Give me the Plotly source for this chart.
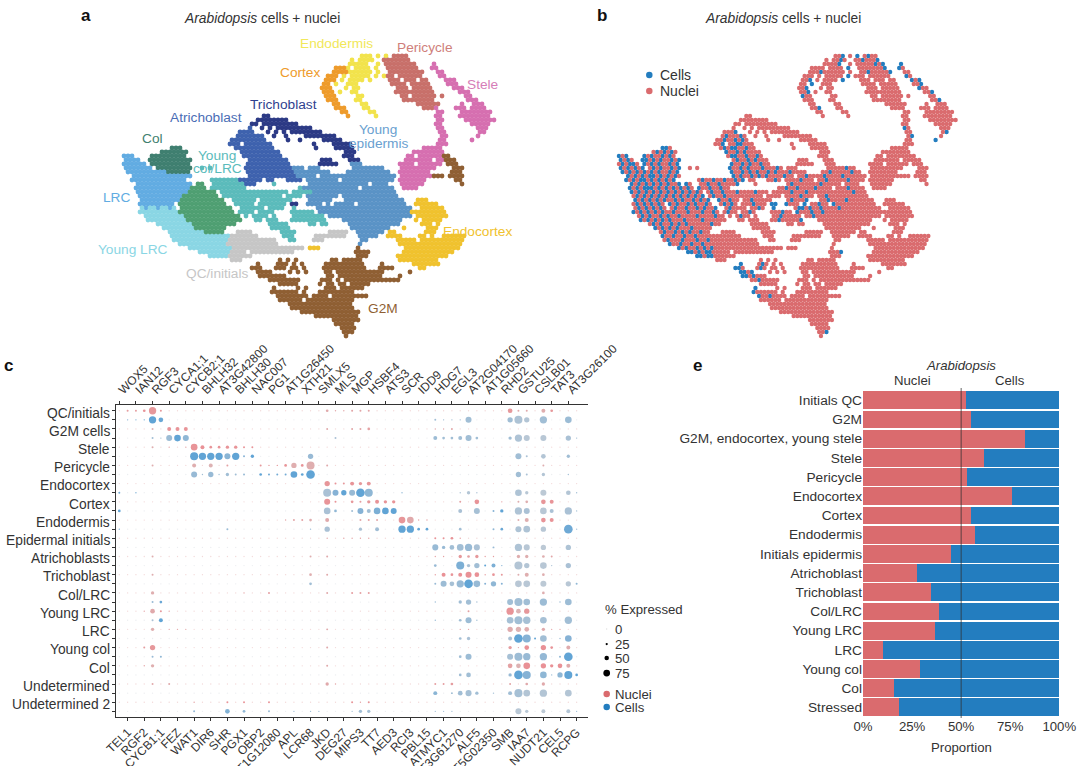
import plotly.graph_objects as go

W, H = 1080, 766
RED, BLUE = "#DA6B6E", "#237DBF"
INK = "#333333"
FONT = "Liberation Sans"

# Upper case = nuclei, lower case = cells, "." = empty.
UMAP_ROWS = [
    "",
    "60:EEe 64:E 66:e 68:PpPP",
    "58:E.EEe 63:E 66:PPpPPPp",
    "57:EEEEe 63:.E 66:PPPPPpPp 78:s",
    "54:OOO 57:E.EEEE 64:e 67:PPPPPPPp 78:sS",
    "53:OOOo 57:EEEEEE 64:E 67:PPpPPPPPp 79:SS",
    "52:OOO 56:E.EEEEE 64:e.E 67:PP.PPPPPP 80:sS",
    "51:OOo 55:E 57:EEEE 62:e 67:PPP.PPP.PP 81:sSs",
    "51:OO 54:e 57:EEE 68:PPPP.PPPPP 82:SSs",
    "50:OOo 56:E.EE 69:PPP.PPPPP 83:sSS",
    "51:OOo 55:E 58:EE 69:PPPPPPPPPP 85:SSs",
    "51:oOO 58:.EE 70:PP.PPPPPP 80:P 86:SS",
    "52:OOO 59:EE 71:PPPPPPPP 87:SSs",
    "53:OO 60:EE 74:PPPPPP 85:S 88:SSS",
    "54:OOo 61:EE 76:PPP 79:S 84:SSS 88:SSSS",
    "55:OO 62:EE 79:SS 85:SSSSSSSS",
    "36:TT 57:O 64:E 79:SS 85:SSSSSSSS",
    "34:TTTTTTTT 79:SS 85:.SSSSSSSS",
    "33:TT.TTTTTTTTT 79:SS 88:SSSSS",
    "32:A 35:T.T.TTTTTTTTT 79:sS 89:SSS",
    "30:AAAa 37:T.T.T 43:TTTTTTTT 80:SS 90:Ss",
    "29:AaAAAaA 38:T 41:T 46:TTTTTTTT 80:Ss 89:S",
    "28:AAaAAaAaA 42:T 45:T 51:TTTTT 80:SS 88:s",
    "27:AAa.AAaaAAA 48:T 53:TTTTT 79:SSS",
    "13:ccC 29:AaAaaAAaAA 49:T 54:TTTTT 76:SSSSS",
    "10:CcCcCcC 30:aAAaAaAAAA 56:TTT 73:SSSSSSSS",
    "1:lLl 8:cCcCCcCcC 31:AaaAAaAAaA 56:TTT 72:SS.SSSSSS 81:MM",
    "1:lLlL 7:ccCcCcCCcCc 32:AaAAaAaAAA 50:TTT 57:TTT 71:SSSSSSS.SS 81:MMM",
    "1:LlLllL 8:cCcCcCCcCc 32:aAAaAaAAaAA 50:TTTTT 58:YYY 70:SSSS.SSSSSS 82:MMM",
    "1:lLlLlLl 9:CcCcCCcCc 20:N.N 31:aAAaAaAAAaAA 43:YyY.YYY 58:YYYYYyYY 70:SSSSSSSSS 83:MMM",
    "2:lLlLlLlLlL 12:cCCcCc 32:aAAaAaAaAAaA 44:yYYYyYYYY 57:YYyYYYYYyYY 70:SSSSSSSS 83:MMM",
    "3:lLlLlLllLlLlLlL 32:aAaAAaAaAaAA 44:YYyYY.YYyYYYYyYYYYyYYYYYY 70:SSSSSSSS 78:MMM.MMMM",
    "3:lLlLllLlLlLlLl 23:NnNNnNN 30:aAAaAa.AA 42:AAaA 47:YYYYyYYY.YYyYYYYYyYYYY 70:SSSSSSS 84:MM",
    "4:lLlLlLlLlLlLLl 19:gG 23:NNnNNnNN 31:AAa 38:N 47:YyYYYYYYYyYYYYY.YYYY 70:SSSSSS 85:M",
    "4:lLlLlllLlLlLlL 18:gGgG 23:nNNnNNnNN 45:NYyYYyYYYYyYYYY.YYYyYYYY 71:SSSS",
    "4:lLlLlLlLlLlLl 17:GgGgGgG 25:NnNNnNNNnNNNNnNNN.NNNNN 47:YyYYYyYYYYYYYYYYYYyYYY",
    "5:LlLlLlLlLlL 16:gGgGgGgGg 26:NnNNnNNNNNNNNNN.NNNN 47:YYYYyYYY.YYyYYYYYYYYYYY",
    "5:lLlLlLlLlL 15:GgGgGGgGgGg 28:nNNnNN.NNnNNNNN 47:YyYYYy 56:YYyYYYYyYYYYYYY 74:DDD",
    "5:LlLlLlLlL 15:gGgGGgGgGGgG 29:NnNnN.NNNnNNN 43:tt 47:yYYY.y 54:YYyYY.yYYYYYYYYYYY 74:DDDDDD",
    "5:UlUuLuUlU 15:GgGGgGGgGgGGg 29:.NnNNNN.NNnN 43:n 49:YyyYyYYyYYYYyYYYYYYYYYYY 74:.DDDDDD",
    "5:uUuUuUuUuU 15:GgGGGgGGGgGGgG 30:NnNN.NNnN 43:NNNnNN 50:yYYYyYYyYYYYYYYYYYYYYYY 73:DDDDDDDDD",
    "6:UuUuUUuUuU 16:GgGGGGgGGGGgGG 31:N.NnNN.N 43:NNnNNNNN 52:YYyYYYYYYYYYYYYYYYYYY 74:DDDDDDDD",
    "7:uUuUuUuUuU 17:GGgGGGGgGGGGGG 34:NN.NNN 43:NNnNNNNNn 56:YYYYYYYYYYYYYYY 74:D.DDDDD",
    "9:UuUuUUuUu 18:GgGGGGGGgGG 37:NNNNN 47:NN.NN 57:YYYYYYYYYYYYY 75:DDD.D",
    "11:uUuUuUuU 19:GGgGGGGG 38:NNNNN 58:YYYYYYYYYY 71:D 77:DDD",
    "12:UuUUuUuUu 21:GGgGG 29:QQQQ 40:NNNN 52:QQQQQ 59:YYYYYYY 67:DD 76:DDD",
    "13:uUUuUUuUUuUUUUU 28:QQQQQQQ 41:NNN 49:QQQQQQQQ 60:YYYYY 67:DDDD 74:.DD.D..DDD 84:DDD",
    "13:UuUUUuUUUuUUuU 27:QQQQQQQQQQQQ 42:NN 48:QQQ 60:YY 69:DDDDD 75:DDDDDDDDDDD",
    "15:uUUuUUuUUuUU 27:QQQQQQQQQQQQQ 60:Y 70:DDDDDDDDDDDDDDDD",
    "17:uUuUUuUuUuU 28:QQQQQQQQQQQQQQQQQQ 47:DDD 59:M 71:DDDDDDDDDDDDDD",
    "20:uuUuUuuU 28:QQQQ.QQQQQQQQQQQ 59:MMMm 71:DDDDDDDDDDDDD",
    "22:uuUuu 27:QQQQQQ 59:MMM 69:DDDDDDDDDDDDD",
    "28:QQQ 40:M.M 44:M 53:MM.MMMMM 70:DDDDDDDDDD",
    "34:m 39:MmM.M.M 51:MMMMMMMMMM 65:M 73:DDDDDDD",
    "33:mmM 39:MmM.MM.M 51:MMMMMMMMMMM 65:MMMM 75:DD",
    "34:mmMm 42:M.M 46:M 51:MM.MMMMMMMMMMMM 72:M",
    "35:mmMmMMM 52:MM.MMMMMMMMMMM 70:M",
    "37:MMmMMMM 44:M 50:MMM.M.MMMMMMMMMMMMMM",
    "40:MMMMM 50:M.MM.MM.MMMMM",
    "38:m 44:M.M 51:MMM.MMMMMM",
    "38:mMMMMMM.M 50:MMMMMMMMM",
    "39:mMMmMMMM.MMMM.MMMMMMMMM",
    "40:MMMMMM.MMMMMMMMMMMM",
    "42:MMMMMMMMMMMMMMMM",
    "43:MMMMMMMMMMMMMMMM",
    "45:MMMMMMMMMMMMMMM",
    "49:MMMMMMMMMMM",
    "53:MMMMMMM",
    "54:MMMMM",
    "55:MMMM",
    "56:MMm",
    "56:M",
]

CLUSTER_COLOURS = {
    "E": "#F2E34C", "O": "#EE9B2B", "P": "#C8706A", "S": "#D66FB0",
    "T": "#2C3A85", "A": "#3E62AE", "Y": "#5A93C6", "C": "#3F7F70",
    "N": "#5BBBBB", "L": "#62ACE2", "U": "#8AD6E4", "G": "#4F9F72",
    "Q": "#C6C6C6", "M": "#8F5F33", "D": "#F0C22E",
}

# Cluster names: text, colour, centre in figure pixels.
CLUSTER_LABELS = [
    ("Endodermis", "#F1E85A", 336, 43), ("Pericycle", "#CF7F7B", 425, 48),
    ("Cortex", "#EE9B2B", 300, 73), ("Stele", "#D67DB8", 482, 85),
    ("Trichoblast", "#2F3F8F", 283, 105), ("Atrichoblast", "#4A6DB5", 206, 117),
    ("Young", "#6A9FD0", 378, 129), ("epidermis", "#6A9FD0", 378, 143),
    ("Col", "#3F7F70", 152, 138), ("Young", "#5BBBBB", 217, 155),
    ("col/LRC", "#5BBBBB", 217, 168), ("LRC", "#62ACE2", 116, 197),
    ("Endocortex", "#F0C22E", 477, 231), ("Young LRC", "#8AD6E4", 133, 250),
    ("QC/initials", "#C6C6C6", 217, 273), ("G2M", "#8F5F33", 383, 308),
]

TOP_GENES = ["WOX5", "IAN12", "RGF3", "CYCA1;1", "CYCB2;1", "BHLH32", "AT3G42800",
             "BHLH30", "NAC007", "PG1", "AT1G26450", "XTH21", "SMLX5", "MLS", "MGP",
             "HSBF4", "ATS3", "SCR", "IDD9", "HDG7", "EGL3", "AT2G04170", "AT1G05660",
             "RHD2", "GSTU25", "CSLB01", "TAT3", "AT3G26100"]
BOTTOM_GENES = ["TEL1", "RGF2", "CYCB1;1", "FEZ", "WAT1", "DIR6", "SHR", "PGX1", "OBP2",
                "AT1G12080", "APL", "LCR68", "JKD", "DEG27", "MIPS3", "TT7", "AED3",
                "RCI3", "PBL15", "ATMYC1", "AT3G61270", "ALF5", "AT5G02350", "SMB",
                "IAA7", "NUDT21", "CEL5", "RCPG"]
DOT_CELL_TYPES = ["QC/initials", "G2M cells", "Stele", "Pericycle", "Endocortex", "Cortex",
                  "Endodermis", "Epidermal initials", "Atrichoblasts", "Trichoblast",
                  "Col/LRC", "Young LRC", "LRC", "Young col", "Col", "Undetermined",
                  "Undetermined 2"]

# Per row (nuclei row, then cells row, per cell type): gene column -> (% expressed, mean level).
DOTS = [
    {1:(22,.7),2:(22,.7),3:(30,.9),4:(81,.8),5:(22,.8),25:(30,.4),26:(15,.5),27:(15,.5),28:(22,.5),29:(22,.5),30:(22,.5),47:(52,.8),48:(22,.4),49:(22,.4),51:(44,.3),52:(30,.8)},
    {1:(15,.6),2:(15,.7),3:(15,.8),4:(81,1),5:(52,.9),38:(22,.3),39:(15,.3),40:(15,.3),41:(15,.3),42:(67,.3),47:(59,.3),48:(89,.15),49:(59,.1),51:(81,.3),54:(74,.35)},
    {4:(22,.2),6:(44,.9),7:(44,.9),8:(44,.9),25:(22,.4),28:(22,.5),29:(22,.5),30:(30,.6),38:(15,.4),39:(15,.4),40:(22,.5)},
    {4:(22,.3),5:(15,.3),6:(67,.35),7:(74,1),8:(67,.5),26:(22,.2),38:(44,.35),39:(30,.3),40:(30,.3),41:(44,.3),42:(67,.3),43:(30,.3),47:(37,.3),48:(81,.15),49:(67,.05),51:(67,.05),54:(59,.2),55:(15,.3)},
    {4:(22,.3),6:(15,.6),8:(15,.6),9:(74,.9),10:(44,.95),11:(30,.9),12:(30,.9),13:(37,.9),14:(37,.9),15:(22,.9),16:(22,.9)},
    {9:(89,1),10:(81,1),11:(81,1),12:(81,1),13:(67,.55),14:(81,1),15:(22,.6),16:(37,1),23:(59,.4),48:(67,.3),49:(22,.2),51:(52,.1),54:(37,.3)},
    {4:(22,.3),9:(44,.3),11:(44,.2),13:(22,.6),17:(22,.8),18:(15,.8),19:(15,.8),20:(30,.9),21:(59,.3),22:(30,.9),23:(89,.3),25:(22,.4),51:(22,.3)},
    {9:(67,.4),10:(15,.3),11:(59,.4),12:(15,.3),13:(37,.3),14:(22,.3),15:(22,.4),17:(30,1),18:(22,.8),19:(22,.8),20:(22,.8),21:(74,1),22:(30,1),23:(96,1),48:(59,.3),49:(22,.2),51:(37,.1),54:(15,.3)},
    {25:(59,.85),26:(22,.9),27:(22,.8),28:(44,.9),29:(37,.8),30:(44,.85)},
    {0:(22,.8),2:(15,.7),25:(89,.2),26:(67,.6),27:(59,1),28:(67,.4),29:(96,1),30:(89,.5),34:(15,.5),41:(15,.2),42:(37,.1),43:(15,.2),48:(74,.15),49:(37,.05),51:(67,0),54:(52,.1),55:(15,.3)},
    {25:(67,.9),26:(22,.9),28:(30,.8),29:(22,.7),30:(37,.8),31:(44,.9),32:(37,.9),33:(37,.9),41:(22,.6),43:(52,.9),46:(15,.7),48:(22,.3),49:(30,.3),51:(52,.85),52:(44,.9)},
    {0:(30,1),25:(74,.2),26:(30,.5),28:(22,.3),29:(67,.6),30:(44,.3),31:(74,.7),32:(74,1),33:(67,1),41:(44,.2),43:(67,.25),45:(22,.6),46:(37,1),48:(81,.15),49:(67,.2),51:(74,.05),52:(44,.2),54:(81,.2),55:(15,.3)},
    {20:(15,.5),21:(22,.5),22:(22,.6),23:(30,.3),25:(44,.4),29:(22,.5),30:(22,.6),31:(22,.5),34:(74,.85),35:(74,.4),36:(15,.6),37:(15,.6),48:(22,.3),49:(44,.3),51:(52,.9),52:(44,.9)},
    {0:(15,.8),13:(22,.4),23:(15,.4),25:(59,.2),29:(37,.2),31:(44,.3),34:(81,1),35:(81,1),36:(30,1),37:(30,1),41:(30,.3),45:(22,.5),46:(30,.9),48:(67,.15),49:(74,.15),51:(59,.05),54:(96,.85),55:(15,.3)},
    {25:(15,.5),27:(15,.6),28:(15,.6),29:(15,.6),30:(15,.6),38:(22,.9),39:(22,.9),40:(30,.9),41:(15,.6)},
    {38:(67,.4),39:(37,.4),40:(52,.3),41:(74,.3),42:(81,.4),43:(67,.2),45:(22,.4),48:(81,.15),49:(67,.05),51:(59,0),54:(59,.15)},
    {4:(22,.3),23:(22,.3),25:(22,.4),38:(15,.6),39:(15,.6),41:(37,.8),42:(30,.6),43:(37,.8),44:(15,.7),45:(15,.7),48:(37,.3),49:(37,.3),51:(30,.3),52:(22,.5)},
    {38:(30,.4),41:(89,.7),42:(37,.2),43:(59,.3),44:(22,1),45:(44,.7),46:(15,.6),48:(89,.1),49:(59,.1),51:(74,.05),52:(15,.2),54:(59,.2)},
    {4:(22,.3),23:(30,.3),25:(22,.4),38:(15,.7),39:(44,.95),40:(30,.9),41:(44,.95),42:(67,.95),43:(52,.95),44:(15,.7),45:(30,.9),46:(22,.8),48:(22,.3),49:(44,.3),51:(30,.3)},
    {23:(30,.3),38:(22,.4),39:(67,.35),40:(52,.25),41:(81,.4),42:(96,1),43:(74,.4),44:(22,.6),45:(59,.5),46:(22,.6),48:(74,.05),49:(74,.05),51:(67,0),54:(59,.05),55:(22,.5)},
    {4:(37,.3),15:(15,.6),18:(22,.7),25:(22,.4),28:(22,.7),29:(22,.6),30:(22,.7),51:(30,.3)},
    {4:(22,.4),5:(30,.9),38:(15,.4),41:(37,.3),42:(59,.3),43:(15,.3),47:(67,.3),48:(89,.3),49:(74,.3),51:(81,.35),53:(15,.4),54:(74,.35)},
    {3:(15,.6),4:(52,.4),5:(22,.8),6:(15,.6),42:(22,.6),47:(81,.9),48:(52,.2),49:(59,.8),51:(15,.4)},
    {4:(22,.2),5:(44,1),38:(15,.4),41:(30,.3),42:(67,.35),43:(15,.3),47:(74,.25),48:(89,.3),49:(81,.25),51:(74,.25),54:(81,.3)},
    {4:(37,.3),6:(15,.6),7:(15,.6),8:(15,.5),25:(22,.4),41:(15,.6),42:(15,.6),47:(59,.35),48:(59,.2),49:(52,.3),51:(37,.4),52:(15,.6),53:(15,.6)},
    {41:(30,.3),42:(37,.2),47:(44,.2),48:(96,1),49:(89,.6),50:(22,1),51:(74,.3),53:(15,.4),54:(74,.6)},
    {3:(22,.7),4:(59,.8),25:(22,.4),47:(37,.7),48:(15,.4),49:(52,.95),51:(59,.95),52:(30,.9),54:(44,.35)},
    {4:(22,.4),5:(22,.5),41:(30,.3),42:(67,.35),47:(67,.25),48:(89,.35),49:(81,.4),51:(81,.45),53:(22,.5),54:(96,1)},
    {3:(15,.6),4:(37,.3),25:(22,.4),47:(52,.6),48:(52,.2),49:(74,.95),51:(59,.95),52:(37,.95),53:(52,.95),54:(44,.4)},
    {41:(30,.3),42:(52,.3),47:(37,.4),48:(96,1),49:(89,.6),51:(74,.5),52:(15,.4),53:(59,.5),54:(89,1),55:(30,1)},
    {4:(22,.4),6:(22,.4),25:(37,.4),26:(15,.6),38:(22,.7),39:(22,.7),40:(30,.7),47:(22,.5),49:(30,.4),51:(37,.4)},
    {38:(44,.55),40:(22,.3),41:(52,.3),42:(67,.25),43:(37,.3),45:(15,.3),47:(44,.3),48:(89,.25),49:(74,.1),51:(81,.1),54:(74,.1)},
    {9:(15,.6),13:(22,.9),15:(22,.9),18:(22,.9),28:(22,.9),29:(15,.6),30:(22,.9)},
    {9:(22,.45),13:(52,.65),15:(30,.5),18:(22,.4),21:(15,.4),23:(15,.4),24:(15,.4),28:(15,.3),29:(37,.3),30:(37,.25),38:(15,.3),39:(15,.3),40:(15,.3),48:(67,.05),49:(37,.05),51:(44,0),54:(44,.1),55:(15,.4)},
]

BAR_CATEGORIES = ["Initials QC", "G2M", "G2M, endocortex, young stele", "Stele", "Pericycle",
                  "Endocortex", "Cortex", "Endodermis", "Initials epidermis", "Atrichoblast",
                  "Trichoblast", "Col/LRC", "Young LRC", "LRC", "Young col", "Col", "Stressed"]
NUCLEI_PROPORTION = [52.4, 55, 82.4, 61.7, 52.9, 76, 55, 57.3, 44.6, 27.3, 34.4, 38.6, 36.8,
                     10, 28.8, 16, 18.3]
CELLS_PROPORTION = [100 - v for v in NUCLEI_PROPORTION]
PCT_LEGEND = [0, 25, 50, 75]


def px(x):
    return x / W


def py(y):
    return 1 - y / H


def mix(a, b, t):
    return "rgb(%d,%d,%d)" % tuple(round(a[i] + (b[i] - a[i]) * t) for i in range(3))


def dot_size(pct):
    return max(1.3, pct * 0.09)


def label(text, x, y, size=13.7, color=INK, anchor="center", **kw):
    return dict(text=text, x=px(x), y=py(y), xref="paper", yref="paper", showarrow=False,
                xanchor=anchor, yanchor="middle", font=dict(size=size, color=color, family=FONT), **kw)


# Unpack the digitised embedding.
points = {}
cells_xy, nuclei_xy = ([], []), ([], [])
for r, row in enumerate(UMAP_ROWS):
    for seg in row.split():
        start, letters = seg.split(":")
        for i, ch in enumerate(letters):
            if ch == ".":
                continue
            x = int(start) + i + 0.5 * (r % 2)
            points.setdefault(ch.upper(), ([], []))
            points[ch.upper()][0].append(x)
            points[ch.upper()][1].append(r)
            target = cells_xy if ch.islower() else nuclei_xy
            target[0].append(x)
            target[1].append(r)

fig = go.Figure()

# Panel a: embedding coloured by cell type.
for key, colour in CLUSTER_COLOURS.items():
    fig.add_trace(go.Scatter(x=points[key][0], y=points[key][1], mode="markers", xaxis="x", yaxis="y",
                             marker=dict(size=4.8, color=colour, line=dict(width=0)), showlegend=False))

# Panel b: same embedding coloured by library type.
for xy, colour in ((cells_xy, BLUE), (nuclei_xy, RED)):
    fig.add_trace(go.Scatter(x=xy[0], y=xy[1], mode="markers", xaxis="x2", yaxis="y2",
                             marker=dict(size=4.4, color=colour, line=dict(width=0)), showlegend=False))

# Panel c: dot plot, nuclei rows and cells rows.
RED_MUTED, RED_FULL = (203, 158, 158), (224, 96, 102)
BLUE_MUTED, BLUE_FULL = (160, 178, 195), (30, 125, 195)
n_cols = len(TOP_GENES) + len(BOTTOM_GENES)
for is_cells, faint, lo, hi, xaxis in ((False, "#EDC8C8", RED_MUTED, RED_FULL, "x4"),
                                       (True, "#E3E6EA", BLUE_MUTED, BLUE_FULL, "x3")):
    xs, ys, sizes, colours = [], [], [], []
    for r, row in enumerate(DOTS):
        if (r % 2 == 1) != is_cells:
            continue
        for c in range(n_cols):
            pct, level = row.get(c, (0, None))
            xs.append(c)
            ys.append(r)
            sizes.append(dot_size(pct))
            colours.append(faint if level is None else mix(lo, hi, level))
    fig.add_trace(go.Scatter(x=xs, y=ys, mode="markers", xaxis=xaxis, yaxis="y3", showlegend=False,
                             marker=dict(size=sizes, color=colours, line=dict(width=0))))

# Panel e: stacked proportions.
fig.add_trace(go.Bar(y=BAR_CATEGORIES, x=NUCLEI_PROPORTION, orientation="h", marker=dict(color=RED, line=dict(width=0)),
                     xaxis="x5", yaxis="y5", showlegend=False))
fig.add_trace(go.Bar(y=BAR_CATEGORIES, x=CELLS_PROPORTION, orientation="h", marker=dict(color=BLUE, line=dict(width=0)),
                     xaxis="x5", yaxis="y5", showlegend=False))

annotations = [
    label("<b>a</b>", 86, 16, 17, "#111111"), label("<b>b</b>", 602, 16, 17, "#111111"),
    label("<b>c</b>", 8, 365, 17, "#111111"), label("<b>e</b>", 697, 365, 17, "#111111"),
    label("<i>Arabidopsis</i> cells + nuclei", 262, 18, 13.8),
    label("<i>Arabidopsis</i> cells + nuclei", 783, 18, 13.8),
    label("Cells", 658, 75, 14, anchor="left"), label("Nuclei", 658, 91, 14, anchor="left"),
    label("<i>Arabidopsis</i>", 961, 365, 13.2), label("Nuclei", 912, 380, 13.2), label("Cells", 1010, 380, 13.2),
    label("Proportion", 961, 747, 13.2),
    label("% Expressed", 603, 609, 13.2, anchor="left"),
    label("Nuclei", 613, 694, 13.2, anchor="left"), label("Cells", 613, 707, 13.2, anchor="left"),
]
for text, colour, x, y in CLUSTER_LABELS:
    annotations.append(label(text, x, y, 13.7, colour))
for i, name in enumerate(DOT_CELL_TYPES):
    annotations.append(dict(text=name, x=px(112), y=2 * i + 0.25, xref="paper", yref="y3", showarrow=False,
                            xanchor="right", yanchor="middle", font=dict(size=13.8, color=INK, family=FONT)))
for value, y in zip(PCT_LEGEND, (629, 644, 658, 673)):
    annotations.append(label(str(value), 613, y, 13.2, anchor="left"))

# Legend keys and the 50% reference line.
shapes = [dict(type="line", xref="x5", yref="paper", x0=50, x1=50, y0=py(388), y1=py(718),
               line=dict(color="rgba(50,50,50,0.75)", width=1))]


def key(x, y, diameter, colour):
    r = diameter / 2
    return dict(type="circle", xref="paper", yref="paper", x0=px(x - r), x1=px(x + r),
                y0=py(y + r), y1=py(y - r), fillcolor=colour, line=dict(width=0))


shapes += [key(649.3, 75, 6.5, BLUE), key(649.3, 91, 6.5, RED), key(606.7, 694, 6.5, RED), key(606.7, 707, 6.5, BLUE)]
for value, y in zip(PCT_LEGEND, (629, 644, 658, 673)):
    shapes.append(key(606.7, y, dot_size(value), "#DDDDDD" if value == 0 else "#000000"))

hidden = dict(visible=False, showgrid=False, zeroline=False, fixedrange=True)
line = dict(showline=True, linecolor=INK, linewidth=1.4, ticks="outside", ticklen=2.5, tickwidth=1, tickcolor=INK,
            showgrid=False, zeroline=False)
gene_ticks = dict(tickangle=-45, tickfont=dict(size=12, color=INK, family=FONT), tickmode="array", range=[-0.397, 56.33])

fig.update_layout(
    width=W, height=H, margin=dict(l=0, r=0, t=0, b=0, autoexpand=False), autosize=False,
    paper_bgcolor="white", plot_bgcolor="white", barmode="stack", bargap=0.07,
    annotations=annotations, shapes=shapes,
    xaxis=dict(domain=[px(120), px(120 + 4 * 95)], range=[0, 95], **hidden),
    yaxis=dict(domain=[py(50 + 4 * 73), py(50)], range=[72.5, -0.5], **hidden),
    xaxis2=dict(domain=[px(615.3), px(615.3 + 3.64 * 95)], range=[0, 95], **hidden),
    yaxis2=dict(domain=[py(50 + 4 * 73), py(50)], range=[72.5, -0.5], **hidden),
    xaxis3=dict(domain=[px(116), px(587.7)], anchor="y3", side="bottom",
                tickvals=list(range(1, n_cols, 2)), ticktext=BOTTOM_GENES, **gene_ticks, **line),
    xaxis4=dict(overlaying="x3", anchor="y3", side="top",
                tickvals=list(range(0, n_cols, 2)), ticktext=TOP_GENES, **gene_ticks, **line),
    yaxis3=dict(domain=[py(717), py(405)], anchor="x3", range=[33.62, -0.63], tickmode="array",
                tickvals=list(range(len(DOTS))), showticklabels=False, **line),
    xaxis5=dict(domain=[px(863), px(1059.3)], anchor="y5", range=[0, 100], tickmode="array",
                tickvals=[0, 25, 50, 75, 100], ticktext=["0%", "25%", "50%", "75%", "100%"], ticks="",
                tickfont=dict(size=13.2, color=INK, family=FONT), showgrid=False, zeroline=False),
    yaxis5=dict(domain=[py(717), py(390.7)], anchor="x5", autorange="reversed", ticks="", ticklen=0,
                tickfont=dict(size=13.7, color=INK, family=FONT), showgrid=False, zeroline=False),
)

fig.write_html("out.html")
